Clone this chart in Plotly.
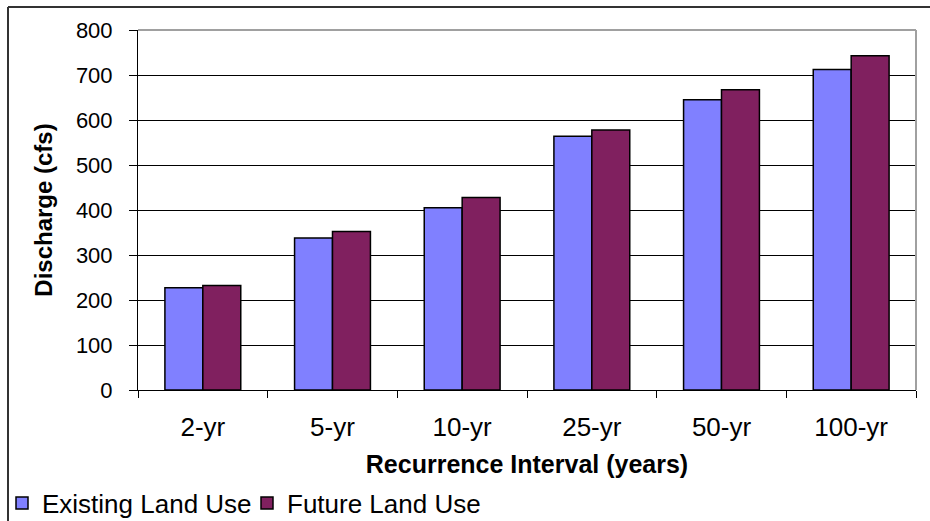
import plotly.graph_objects as go

# Peak discharge by storm recurrence interval
intervals = ["2-yr", "5-yr", "10-yr", "25-yr", "50-yr", "100-yr"]
existing_cfs = [227, 338, 405, 564, 645, 712]
future_cfs = [232, 352, 428, 578, 667, 743]
y_ticks = [0, 100, 200, 300, 400, 500, 600, 700, 800]

FONT = "Liberation Sans, Arial, sans-serif"

fig = go.Figure()
fig.add_trace(go.Bar(
    x=intervals, y=existing_cfs, name="Existing Land Use",
    marker=dict(color="#8080FF", line=dict(color="#000000", width=1.5)),
))
fig.add_trace(go.Bar(
    x=intervals, y=future_cfs, name="Future Land Use",
    marker=dict(color="#80205F", line=dict(color="#000000", width=1.5)),
))

W, H = 930, 521
L, R, T, B = 138, 14, 30, 131
pw, ph = W - L - R, H - T - B

def px_x(x):
    return (x - L) / pw

def px_y(y):
    return (H - B - y) / ph

fig.update_layout(
    width=W, height=H,
    margin=dict(l=L, r=R, t=T, b=B, autoexpand=False),
    paper_bgcolor="white", plot_bgcolor="white",
    barmode="group", bargap=0.415, bargroupgap=0,
    font=dict(family=FONT, color="#000000", size=22),
    showlegend=True,
    legend=dict(
        orientation="h", x=px_x(2), xanchor="left",
        y=px_y(503), yanchor="middle",
        font=dict(size=26), bgcolor="rgba(0,0,0,0)",
        entrywidth=200, itemclick=False,
    ),
    xaxis=dict(
        automargin=False,
        showline=True, linecolor="#000000", linewidth=1,
        ticks="outside", tickson="boundaries", ticklen=7, tickcolor="#000000",
        tickfont=dict(size=26), ticklabelstandoff=14,
        title=dict(text="<b>Recurrence Interval (years)</b>", font=dict(size=25), standoff=14),
        showgrid=False, zeroline=False,
    ),
    yaxis=dict(
        automargin=False,
        range=[0, 800], tickvals=y_ticks,
        showline=True, linecolor="#000000", linewidth=1,
        ticks="outside", ticklen=8, tickcolor="#000000",
        tickfont=dict(size=22), ticklabelstandoff=12,
        showgrid=True, gridcolor="#000000", gridwidth=1,
        zeroline=False,
        title=dict(text="<b>Discharge (cfs)</b>", font=dict(size=24), standoff=16),
    ),
    shapes=[
        # plot area frame: grey top and right edges
        dict(type="line", xref="paper", yref="paper", x0=0, x1=1, y0=1, y1=1,
             line=dict(color="#A0A0A0", width=2)),
        dict(type="line", xref="paper", yref="paper", x0=1, x1=1, y0=0, y1=1,
             line=dict(color="#A0A0A0", width=2)),
        # chart frame: left and top edges
        dict(type="line", xref="paper", yref="paper",
             x0=px_x(8), x1=px_x(8), y0=px_y(H + 5), y1=px_y(7),
             line=dict(color="#333333", width=2)),
        dict(type="line", xref="paper", yref="paper",
             x0=px_x(8), x1=px_x(W + 5), y0=px_y(7), y1=px_y(7),
             line=dict(color="#333333", width=2)),
    ],
)

fig.write_html("out.html")
